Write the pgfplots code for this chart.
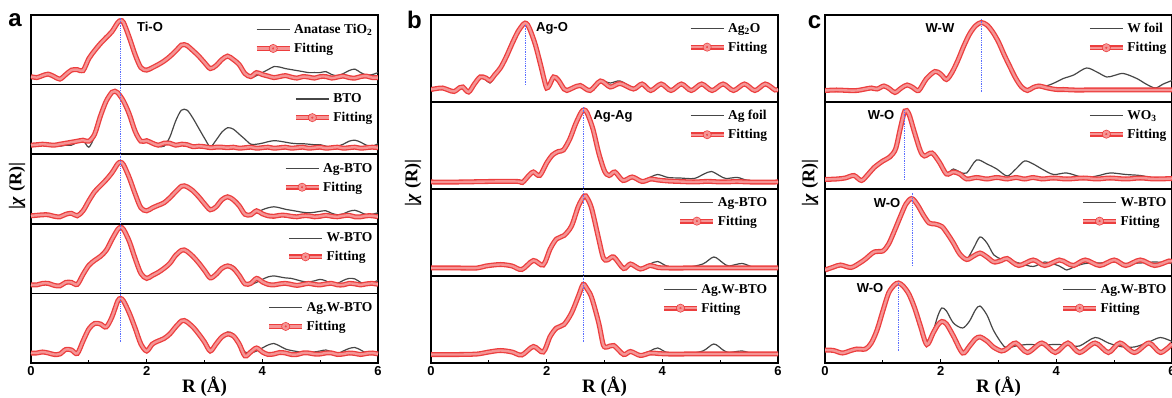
\documentclass[border=0pt]{standalone}
\usepackage{pgfplots}
\pgfplotsset{compat=1.18}
\usepackage{pgfplotstable}
\usepackage{fontspec}
\setmainfont{Liberation Serif}
\newfontfamily\arial{Liberation Sans}
\definecolor{fitred}{RGB}{236,62,62}
\definecolor{datagray}{RGB}{70,70,70}
\definecolor{vblue}{RGB}{90,110,255}
\tikzset{vline/.style={vblue, line width=1.1pt, dash pattern=on 1.3pt off 1pt}}

\pgfplotsset{
  sub/.style={scale only axis, width=347pt, xmin=0, xmax=6, ymin=0,
    axis line style={line width=1.5pt}, ytick=\empty, xtick=\empty,
    legend style={draw=none, fill=none, anchor=north east,
      font=\fontsize{13.5}{13.5}\selectfont\bfseries, row sep=4pt, inner sep=0pt,
      cells={anchor=west}},
    legend image code/.code={\draw[#1] (0pt,0pt) -- (33pt,0pt);}},
  subA/.style={sub, height=69.6pt, ymax=69.6, legend style={at={(0.99,0.9)}}},
  subB/.style={sub, height=87pt, ymax=87, legend style={at={(0.975,0.93)}}},
  subC/.style={sub, height=87pt, ymax=87, legend style={at={(0.99,0.93)}}},
  bottomax/.style={xtick={0,2,4,6}, xticklabels={0,2,4,6}, minor xtick={1,3,5},
    xtick pos=left, tick align=inside, major tick length=4pt, minor tick length=2.5pt,
    tick style={line width=1pt, black},
    xticklabel style={font=\arial\bfseries\fontsize{13}{13}\selectfont},
    xlabel={R (Å)}, xlabel style={font=\fontsize{19}{19}\selectfont\bfseries, yshift=6pt}},
  dataplot/.style={datagray, line width=1.2pt, smooth},
  fitplot/.style={fitred, line width=1.3pt, double=fitred!55!white, double distance=2.4pt, smooth,
    legend image code/.code={\draw[fitred, line width=1.3pt] (0pt,0pt) -- (33pt,0pt); \draw[fitred, line width=0.7pt, fill=fitred!35] (16.5pt,0pt) circle (2.4pt);}},
}

% ---------------- panel a ----------------
\pgfplotstableread{
x f d
0.0 8 8
0.1 7 7
0.2 9 9
0.3 10.5 10.5
0.4 8 8
0.5 5.5 5.5
0.6 10 10
0.7 14.5 14.5
0.8 15 14
0.9 14 12.5
1.0 26 25
1.1 34 33
1.2 41 40
1.3 47 46
1.4 53 53
1.5 62 62
1.55 64 64
1.6 62 62
1.7 47 47
1.8 30 30
1.9 17 16
2.0 14.5 13
2.1 17 16
2.2 20 19
2.3 23.5 23
2.4 28 28
2.5 33.5 33.5
2.6 39.5 39.5
2.65 40 40
2.7 39 39
2.8 34 34
2.9 28.5 28.5
3.0 22 22
3.1 16 15
3.2 19 19
3.3 25 25
3.4 28.5 29
3.5 25 26
3.6 20 20
3.7 11 12
3.8 8 7
3.9 12 9
4.0 10 12
4.1 8.5 15
4.2 7 18
4.3 8 17.5
4.4 9 16
4.5 7.5 15
4.6 6.5 14
4.7 8 13
4.8 7.5 12
4.9 6.5 12
5.0 8 12
5.1 8 13
5.2 6.5 10
5.3 7.5 9
5.4 8.5 11
5.5 7 14
5.6 6.5 15.5
5.7 8 12
5.8 8.5 9.5
5.9 7 10
6.0 7 12
}\tAa
\pgfplotstableread{
x f d
0.0 9 9
0.1 9.5 9.5
0.2 10 10
0.3 9.5 9.5
0.4 9 9
0.5 10 8
0.6 11 9
0.7 12 9
0.8 13 12
0.9 14 14
1.0 13 7
1.1 20 18
1.2 38 37
1.3 53 53
1.4 62 62
1.45 63 63
1.5 61.5 61.5
1.6 53 53
1.7 40 40
1.8 23 23
1.9 13 13
2.0 13.5 13.5
2.1 11 11
2.2 9 8
2.3 11 8
2.4 11 17
2.5 9 33
2.6 10 44
2.7 9.5 44
2.8 7.5 36
2.9 8 26
3.0 7.5 16
3.1 6.5 7.5
3.2 7 14
3.3 7 22
3.4 6.5 26.5
3.5 7 25
3.6 6 20
3.7 6.5 15
3.8 7 10
3.9 6 10
4.0 6.5 11
4.1 7 12.5
4.2 6 13.5
4.3 6.5 13
4.4 7 12
4.5 6 11
4.6 6.5 10.5
4.7 7 10.5
4.8 6 10
4.9 6.5 9.5
5.0 7 9.5
5.1 6 8
5.2 6.5 7
5.3 7 8
5.4 6 10
5.5 6.5 13
5.6 7 14
5.7 6 12
5.8 6.5 9
5.9 7 8
6.0 6.5 10.5
}\tAb
\pgfplotstableread{
x f d
0.0 8 8
0.1 8.5 8.5
0.2 9 9
0.3 9 9
0.4 7.5 7.5
0.5 7 7
0.6 9.5 9.5
0.7 10.5 10.5
0.8 8 8
0.9 13 13
1.0 23 23
1.1 32 32
1.2 38 38
1.3 44 44
1.4 51 51
1.5 60 60
1.55 61.5 61.5
1.6 59 59
1.7 46 46
1.8 30 30
1.9 16 15
2.0 13 12
2.1 16 15
2.2 18.5 18
2.3 21 20.5
2.4 26 26
2.5 32 32
2.6 37.5 37.5
2.65 38 38
2.7 37 37
2.8 33 33
2.9 27 27
3.0 20 20
3.1 14 14
3.2 17 17
3.3 24 24
3.4 27 28
3.5 24 25
3.6 18 19
3.7 9.5 10
3.8 9 8.5
3.9 13 11
4.0 10 14
4.1 8 16
4.2 7.5 17
4.3 8.5 16
4.4 8.5 14.5
4.5 7.5 13.5
4.6 7 12.5
4.7 8 11.5
4.8 8 11
4.9 7 11.5
5.0 7.5 12.5
5.1 8.5 13
5.2 7.5 10.5
5.3 7 9
5.4 8 10
5.5 8.5 12.5
5.6 7 13.5
5.7 7 11.5
5.8 8 9
5.9 8 9.5
6.0 7 11
}\tAc
\pgfplotstableread{
x f d
0.0 8.5 8.5
0.1 8.5 8.5
0.2 10 10
0.3 10 10
0.4 8 8
0.5 7.5 7.5
0.6 11 11
0.7 11 11
0.8 9 9
0.9 19 19
1.0 28 28
1.1 33 32
1.2 37 36
1.3 43 43
1.4 54 54
1.5 64 64
1.55 66 66
1.6 64 64
1.7 52 52
1.8 35 35
1.9 20 19
2.0 15 14
2.1 18 17
2.2 21 20
2.3 25 25
2.4 30 30
2.5 38 38
2.6 43 43
2.65 43.5 43.5
2.7 42 42
2.8 37 37
2.9 30.5 30.5
3.0 23 23
3.1 15.5 15.5
3.2 19 19
3.3 25 25
3.4 27.5 29
3.5 25 27
3.6 18 20
3.7 9.5 10
3.8 10 9
3.9 15 11
4.0 11.5 14
4.1 9 16.5
4.2 8.5 17.5
4.3 9.5 16.5
4.4 10 15.5
4.5 9 15
4.6 8 13.5
4.7 9 12
4.8 10 11.5
4.9 9 12.5
5.0 8.5 14
5.1 9.5 12.5
5.2 10 9.5
5.3 8.5 10
5.4 8.5 13
5.5 10 15
5.6 9.5 14.5
5.7 8.5 11
5.8 9.5 9
5.9 10 10.5
6.0 9 13
}\tAd
\pgfplotstableread{
x f d
0.0 10 10
0.1 10 10
0.2 11 11
0.3 10 10
0.4 8.5 8.5
0.5 9 9
0.6 13.5 13.5
0.7 13 13
0.8 9.5 9.5
0.9 22 22
1.0 34 34
1.1 39.5 39.5
1.2 39 39
1.3 36 36
1.4 46 46
1.5 62 62
1.55 64.5 64.5
1.6 62 62
1.7 50 50
1.8 35 35
1.9 19 18
2.0 12 11
2.1 19 18
2.2 22 21
2.3 24.5 24
2.4 29 29
2.5 36 36
2.6 42 42
2.65 42.5 42.5
2.7 41 41
2.8 36 36
2.9 29 29
3.0 21 21
3.1 12 12
3.2 19 19
3.3 26 26
3.4 29 31
3.5 27 29
3.6 19 21
3.7 7 11
3.8 11 10
3.9 15 12
4.0 11 15
4.1 8.5 18
4.2 9 19.5
4.3 10.5 17
4.4 10 14
4.5 8.5 12.5
4.6 8.5 11.5
4.7 10 10.5
4.8 10 10.5
4.9 9 11
5.0 9 12
5.1 10 13
5.2 10 11
5.3 8.5 9.5
5.4 9 12
5.5 10 14.5
5.6 9.5 15.5
5.7 8.5 13
5.8 9.5 10
5.9 10 9.5
6.0 9 10.5
}\tAe
% ---------------- panel b ----------------
\pgfplotstableread{
x f d
0.0 12.5 12.5
0.1 13.5 13.5
0.2 14 14
0.3 12 12
0.4 10.5 10.5
0.5 14.5 14.5
0.55 15 15
0.65 10 10
0.75 18 17
0.85 25 24
0.95 24 22
1.02 21.5 19
1.1 27 25
1.2 34 33
1.3 45 44
1.4 58 57
1.5 70 70
1.6 78 78
1.65 78.5 78.5
1.7 74 75
1.8 58 60
1.9 36 38
1.95 24 25
2.0 14 14
2.05 17 17
2.12 25 25
2.2 22 22
2.3 13 13
2.35 11.5 11.5
2.45 14 14
2.58 16.5 16.5
2.75 11.5 12
2.93 21 21
3.1 15 19
3.27 18.5 21
3.5 13 14
3.65 18 18
3.8 11.5 11.5
3.98 18 18
4.15 11.5 11.5
4.33 18 18
4.5 11.5 11.5
4.68 18 18
4.86 11.5 11.5
5.05 18 18
5.23 11.5 11.5
5.42 18 18
5.6 11.5 11.5
5.78 18 18
5.95 12 12
6.0 13 13
}\tBa
\pgfplotstableread{
x f d
0.0 7 7
0.5 7 7
1.0 7.5 7.5
1.5 7.5 7.5
1.58 6.5 6.5
1.7 14 14
1.77 17 17
1.88 13.5 13.5
2.0 26 26
2.1 34 34
2.2 37.5 37.5
2.29 39 39
2.4 50 50
2.5 65 65
2.6 77 77
2.65 79 79
2.7 76 76
2.8 60 60
2.9 36 36
3.0 18 18
3.08 13.5 13.5
3.18 17 17
3.32 8.5 8.5
3.48 12 12
3.65 7.5 8
3.8 10 12
3.92 9 14.5
4.1 8 11.5
4.3 7.5 11
4.55 7 10.5
4.72 7.5 15
4.85 7.5 17.5
5.0 7 13
5.1 7 10.5
5.3 7.5 11.5
5.5 7 8.5
6.0 7 7.5
}\tBb
\pgfplotstableread{
x f d
0.0 8 8
0.5 8 8
0.8 8 8
0.95 10 10
1.2 11.5 11.5
1.4 10 10
1.57 6.5 6.5
1.77 15.5 15.5
1.94 11 11
2.06 27 27
2.17 37 37
2.3 40.5 40.5
2.43 50 50
2.55 70 70
2.65 80 80
2.7 78 78
2.78 67 67
2.9 37 37
2.98 18 18
3.05 16 16
3.16 19 19
3.33 7.5 7.5
3.45 12 12
3.62 7 7
3.79 10.5 12
3.92 8.5 14.5
4.1 8 9.5
4.4 8 8.5
4.7 8 12
4.89 8 19
5.05 8 13
5.15 8 10
5.38 8 12.5
5.6 8 8.5
6.0 8 8
}\tBc
\pgfplotstableread{
x f d
0.0 8.5 8.5
0.5 8.5 8.5
0.8 9 9
1.0 11 11
1.2 12.5 12.5
1.4 11 11
1.57 8 8
1.77 16.5 16.5
1.94 11 11
2.06 26.5 26.5
2.17 35 35
2.3 38.5 38.5
2.43 50 50
2.55 67 67
2.63 78.5 78.5
2.7 74 74
2.78 65 65
2.9 40 40
2.98 18 18
3.05 16 16
3.16 17.5 17.5
3.33 8.5 8.5
3.45 11.5 11.5
3.62 7.5 7.5
3.79 10 12
3.92 9.5 15
4.1 9 10
4.4 9 9
4.7 9 12
4.89 9 19
5.05 9 13
5.15 9 10.5
5.38 9 12
5.6 9 9
6.0 9 9
}\tBd
% ---------------- panel c ----------------
\pgfplotstableread{
x f d
0.0 11.5 11.5
0.2 12 12
0.4 11.5 11.5
0.55 11.5 11.5
0.7 13 13
0.8 14 14
0.9 13 13
1.02 16 16
1.12 13 13
1.21 9.5 9.5
1.32 14 14
1.42 17 17
1.52 14.5 14.5
1.62 11.5 11.5
1.75 23 23
1.9 30.5 30.5
2.0 28 28
2.1 22.5 22.5
2.2 30 30
2.3 42 42
2.4 56 56
2.5 68 68
2.6 76 76
2.7 79.5 79.5
2.8 77 77
2.9 70 70
3.0 60 60
3.1 47 47
3.2 35 35
3.3 23.5 23.5
3.4 15 15
3.5 11.5 11.5
3.6 14.5 14.5
3.7 16 16
3.85 14 16.5
4.0 12.5 20
4.12 12.5 23.5
4.3 12 27
4.52 12 34
4.7 12 30
4.87 12 25
5.0 12 26.5
5.16 12 28.5
5.39 12 23.5
5.55 12 18
5.71 12 14
5.85 12 18
6.0 12 21.5
}\tCa
\pgfplotstableread{
x f d
0.0 9.5 9.5
0.2 10 10
0.35 11 11
0.5 13.5 13.5
0.63 8.5 8.5
0.75 15 15
0.85 21.5 21.5
1.0 28 28
1.12 32 32
1.22 40 40
1.3 60 60
1.38 78 78
1.45 75 75
1.55 56 56
1.65 38 38
1.72 33 33
1.85 36 36
1.98 26.5 26.5
2.1 15 16
2.22 17 20
2.33 15 17
2.45 10 16
2.62 11.5 29
2.8 10 25
2.97 11.5 20
3.15 10 13
3.3 11.5 20
3.45 10 28
3.6 11.5 25
3.75 10 20
3.95 11 14.5
4.18 10 16
4.47 11 11.5
4.7 10 13
4.93 11 16
5.2 10 14.5
5.45 11 13.5
5.7 10 11
6.0 10.5 11
}\tCb
\pgfplotstableread{
x f d
0.0 6 6
0.15 9 9
0.27 11 11
0.45 8.5 8.5
0.6 13 13
0.7 17 17
0.85 24 24
1.0 25 25
1.1 32 32
1.2 45 45
1.3 59 59
1.4 72 72
1.5 77.5 77.5
1.6 71 71
1.7 61 61
1.8 53 53
1.9 52 52
2.02 49.5 49.5
2.12 42 42
2.22 33 33
2.33 22 22
2.45 16.5 17
2.57 20 28
2.68 23 39
2.8 19 33
2.92 14 21
3.05 15.5 17
3.15 17.5 16.5
3.35 10.5 13
3.6 16 9.5
3.8 10.5 14
4.05 16 10
4.18 13 6
4.3 10.5 9
4.5 16 12.5
4.75 10.5 13
5.0 16 14
5.2 10.5 12.5
5.45 16 13
5.7 10.5 14
5.95 15 13
6.0 14 12.5
}\tCc
\pgfplotstableread{
x f d
0.0 13 13
0.15 12.5 12.5
0.3 10 10
0.45 12.5 12.5
0.55 14 14
0.7 14 14
0.8 20 20
0.9 33 33
1.0 52 52
1.1 70 70
1.2 78 78
1.27 80 80
1.35 77 77
1.45 69 69
1.55 55 55
1.65 37 37
1.76 18.5 18.5
1.87 30 32
1.95 38 47
2.02 41.5 55
2.1 39 52
2.22 27 40
2.38 10 35
2.5 17 42
2.6 24 53
2.68 26 57
2.8 22 48
2.91 16 33
3.05 12 20
3.14 14 15
3.3 20 17
3.5 10.5 18.5
3.75 20 18
3.98 10.5 18.5
4.2 20 18
4.4 10.5 17
4.67 20 25.5
4.9 10.5 20
5.1 20 16.5
5.35 10.5 16
5.6 20 21
5.8 10.5 25.5
6.0 19 21.5
}\tCd

\begin{document}
\begin{tikzpicture}
\useasboundingbox (0pt,0pt) rectangle (1172pt,398pt);

% ===== panel a =====
\begin{axis}[subA, at={(31pt,313.4pt)}, anchor=south west]
\addplot[dataplot] table[x=x,y=d] {\tAa}; \addlegendentry{Anatase TiO\textsubscript{2}}
\addplot[fitplot] table[x=x,y=f] {\tAa}; \addlegendentry{Fitting}
\end{axis}
\begin{axis}[subA, at={(31pt,243.8pt)}, anchor=south west]
\addplot[dataplot] table[x=x,y=d] {\tAb}; \addlegendentry{BTO}
\addplot[fitplot] table[x=x,y=f] {\tAb}; \addlegendentry{Fitting}
\end{axis}
\begin{axis}[subA, at={(31pt,174.2pt)}, anchor=south west]
\addplot[dataplot] table[x=x,y=d] {\tAc}; \addlegendentry{Ag-BTO}
\addplot[fitplot] table[x=x,y=f] {\tAc}; \addlegendentry{Fitting}
\end{axis}
\begin{axis}[subA, at={(31pt,104.6pt)}, anchor=south west]
\addplot[dataplot] table[x=x,y=d] {\tAd}; \addlegendentry{W-BTO}
\addplot[fitplot] table[x=x,y=f] {\tAd}; \addlegendentry{Fitting}
\end{axis}
\begin{axis}[subA, bottomax, clip=false, at={(31pt,35pt)}, anchor=south west]
\addplot[dataplot] table[x=x,y=d] {\tAe}; \addlegendentry{Ag.W-BTO}
\addplot[fitplot] table[x=x,y=f] {\tAe}; \addlegendentry{Fitting}
\draw[vline] (axis cs:1.54,21.3) -- (axis cs:1.54,345);
\end{axis}

% ===== panel b =====
\begin{axis}[subB, at={(431pt,296pt)}, anchor=south west]
\addplot[dataplot] table[x=x,y=d] {\tBa}; \addlegendentry{Ag\textsubscript{2}O}
\addplot[fitplot] table[x=x,y=f] {\tBa}; \addlegendentry{Fitting}
\draw[vline] (axis cs:1.63,17) -- (axis cs:1.63,77);
\end{axis}
\begin{axis}[subB, at={(431pt,209pt)}, anchor=south west]
\addplot[dataplot] table[x=x,y=d] {\tBb}; \addlegendentry{Ag foil}
\addplot[fitplot] table[x=x,y=f] {\tBb}; \addlegendentry{Fitting}
\end{axis}
\begin{axis}[subB, at={(431pt,122pt)}, anchor=south west]
\addplot[dataplot] table[x=x,y=d] {\tBc}; \addlegendentry{Ag-BTO}
\addplot[fitplot] table[x=x,y=f] {\tBc}; \addlegendentry{Fitting}
\end{axis}
\begin{axis}[subB, bottomax, clip=false, at={(431pt,35pt)}, anchor=south west]
\addplot[dataplot] table[x=x,y=d] {\tBd}; \addlegendentry{Ag.W-BTO}
\addplot[fitplot] table[x=x,y=f] {\tBd}; \addlegendentry{Fitting}
\draw[vline] (axis cs:2.63,21.3) -- (axis cs:2.63,256.3);
\end{axis}

% ===== panel c =====
\begin{axis}[subC, at={(825pt,296pt)}, anchor=south west]
\addplot[dataplot] table[x=x,y=d] {\tCa}; \addlegendentry{W foil}
\addplot[fitplot] table[x=x,y=f] {\tCa}; \addlegendentry{Fitting}
\draw[vline] (axis cs:2.71,10.3) -- (axis cs:2.71,83.7);
\end{axis}
\begin{axis}[subC, at={(825pt,209pt)}, anchor=south west]
\addplot[dataplot] table[x=x,y=d] {\tCb}; \addlegendentry{WO\textsubscript{3}}
\addplot[fitplot] table[x=x,y=f] {\tCb}; \addlegendentry{Fitting}
\draw[vline] (axis cs:1.37,9) -- (axis cs:1.37,79);
\end{axis}
\begin{axis}[subC, at={(825pt,122pt)}, anchor=south west]
\addplot[dataplot] table[x=x,y=d] {\tCc}; \addlegendentry{W-BTO}
\addplot[fitplot] table[x=x,y=f] {\tCc}; \addlegendentry{Fitting}
\draw[vline] (axis cs:1.51,10) -- (axis cs:1.51,82.7);
\end{axis}
\begin{axis}[subC, bottomax, at={(825pt,35pt)}, anchor=south west]
\addplot[dataplot] table[x=x,y=d] {\tCd}; \addlegendentry{Ag.W-BTO}
\addplot[fitplot] table[x=x,y=f] {\tCd}; \addlegendentry{Fitting}
\draw[vline] (axis cs:1.27,12.3) -- (axis cs:1.27,81.3);
\end{axis}

% ===== texts =====
\begin{scope}[every node/.style={font=\arial\bfseries\fontsize{24}{24}\selectfont}]
\node at (15pt,378pt) {a};
\node at (414.5pt,378pt) {b};
\node at (814.5pt,376pt) {c};
\end{scope}
\begin{scope}[every node/.style={font=\arial\bfseries\fontsize{13}{13}\selectfont}]
\node at (150pt,371pt) {Ti-O};
\node at (552pt,370pt) {Ag-O};
\node at (613pt,282pt) {Ag-Ag};
\node at (940pt,370pt) {W-W};
\node at (881pt,283pt) {W-O};
\node at (887pt,195pt) {W-O};
\node at (870pt,110pt) {W-O};
\end{scope}
\begin{scope}[every node/.style={rotate=90, font=\fontsize{18}{18}\selectfont\bfseries}]
\node at (17pt,212pt) {|\textit{χ} (R)|};
\node at (413pt,215pt) {|\textit{χ} (R)|};
\node at (810pt,215pt) {|\textit{χ} (R)|};
\end{scope}
\end{tikzpicture}
\end{document}
